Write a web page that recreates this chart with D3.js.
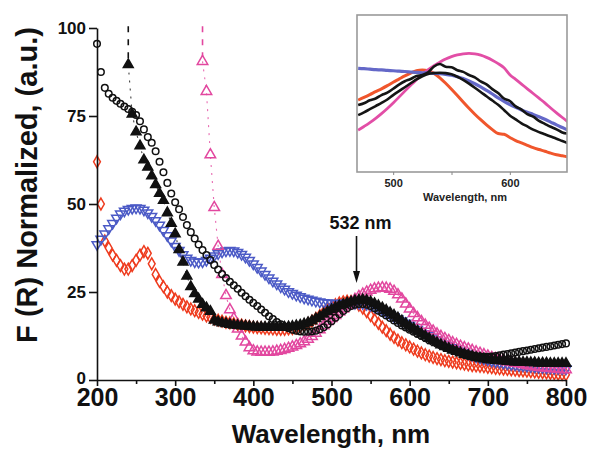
<!DOCTYPE html>
<html><head><meta charset="utf-8">
<script src="https://cdn.jsdelivr.net/npm/d3@7"></script>
<style>body{margin:0;background:#fff}svg{display:block}</style>
</head><body><svg id="c" width="590" height="452"></svg>
<script>
// ---------- main chart data (wavelength step 5 nm) ----------
const wlStart = 200, wlStep = 5;
const redDiamond = [
 62, 50, 39.5, 37.5, 35.5, 34, 32.5, 31.5, 31.5, 32.5,
 34, 35.5, 36.5, 36, 33, 30, 28, 26.5, 25, 24,
 23, 22.2, 21.5, 20.8, 20.2, 19.7, 19.2, 18.7, 18.2, 17.8,
 17.3, 17, 16.7, 16.4, 16.2, 16, 15.8, 15.6, 15.4, 15.2,
 15, 14.9, 14.8, 14.7, 14.6, 14.5, 14.4, 14.4, 14.4, 14.5,
 14.6, 14.8, 15.1, 15.5, 16, 16.7, 17.5, 18.3, 19.2, 20,
 20.8, 21.4, 21.9, 22.2, 22.4, 22.3, 22, 21.3, 20.4, 19.4,
 18.3, 17.2, 16.1, 15, 14, 13, 12.1, 11.3, 10.6, 10,
 9.4, 8.8, 8.2, 7.7, 7.2, 6.8, 6.4, 6.1, 5.8, 5.5,
 5.3, 5.1, 4.9, 4.7, 4.5, 4.3, 4.1, 4, 3.9, 3.8,
 3.6, 3.5, 3.3, 3.2, 3.1, 3, 2.9, 2.8, 2.7, 2.6,
 2.5, 2.4, 2.3, 2.2, 2.1, 2, 1.9, 1.8, 1.7, 1.6,
 1.5];
const blueTriDown = [
 38.5, 40, 41.5, 43, 44.5, 46, 47.2, 48, 48.5, 48.8,
 48.9, 48.8, 48.3, 47.5, 46.5, 45.3, 44, 42.5, 41, 39.5,
 38, 36.8, 35.6, 34.6, 34, 33.6, 33.5, 33.6, 34, 34.6,
 35.3, 35.9, 36.4, 36.7, 36.8, 36.7, 36.3, 35.7, 34.9, 34,
 33, 32, 31, 30, 29, 28.1, 27.3, 26.5, 25.8, 25.1,
 24.6, 24.1, 23.7, 23.3, 23, 22.7, 22.4, 22.2, 22, 21.9,
 21.8, 21.8, 21.8, 21.8, 21.8, 21.8, 21.8, 21.8, 21.7, 21.5,
 21.2, 20.8, 20.3, 19.8, 19.2, 18.6, 18, 17.4, 16.8, 16.2,
 15.6, 15, 14.4, 13.8, 13.2, 12.6, 12, 11.4, 10.8, 10.2,
 9.7, 9.2, 8.7, 8.2, 7.8, 7.4, 7, 6.6, 6.3, 6,
 5.7, 5.4, 5.2, 5, 4.8, 4.6, 4.4, 4.3, 4.1, 4,
 3.9, 3.8, 3.7, 3.6, 3.5, 3.4, 3.4, 3.3, 3.3, 3.2,
 3.2];
const blackCircle = [
 95.5, 87.5, 83, 81.3, 80.2, 79.3, 78.5, 77.7, 77, 76.2,
 75.3, 73.5, 71.2, 69, 67.4, 65, 62, 59, 56, 53,
 50.5, 48.5, 46.3, 44, 42, 40.2, 38.5, 36.9, 35.5, 34.1,
 32.7, 31.4, 30.1, 29, 27.9, 26.9, 25.9, 24.8, 23.8, 22.8,
 21.9, 21, 20, 19.1, 18.1, 17.3, 16.5, 15.8, 15.2, 14.7,
 14.3, 14, 13.8, 13.7, 13.7, 13.8, 14, 14.4, 15, 15.8,
 16.7, 17.7, 18.7, 19.6, 20.4, 21, 21.4, 21.6, 21.6, 21.4,
 21, 20.4, 19.7, 19, 18.3, 17.6, 16.9, 16.2, 15.5, 14.9,
 14.3, 13.7, 13.1, 12.5, 11.9, 11.3, 10.8, 10.3, 9.8, 9.3,
 8.9, 8.5, 8.1, 7.8, 7.5, 7.2, 7, 6.8, 6.7, 6.6,
 6.6, 6.7, 6.8, 7, 7.2, 7.4, 7.6, 7.8, 8, 8.2,
 8.4, 8.6, 8.8, 9, 9.2, 9.4, 9.6, 9.8, 10, 10.2,
 10.4];
const blackTriStart = 240;
const blackTriUp = [
 89.6, 75.5, 70.5, 66.5, 62.5, 60.5, 58, 55.5, 53, 51,
 47.5, 44.5, 41.5, 37, 33.5, 29.5, 26.5, 24.5, 23, 21.5,
 20.5, 19.5, 17, 16.5, 16.2, 16, 15.8, 15.6, 15.5, 15.4,
 15.3, 15.2, 15.1, 15, 15, 15, 15, 15, 15, 15,
 15, 15.1, 15.2, 15.4, 15.6, 15.9, 16.3, 16.8, 17.4, 18,
 18.7, 19.4, 20, 20.6, 21.1, 21.5, 21.9, 22.2, 22.5, 22.7,
 22.8, 22.6, 22.2, 21.7, 21.1, 20.5, 19.8, 19.1, 18.4, 17.6,
 16.8, 16, 15.3, 14.6, 13.9, 13.2, 12.5, 11.8, 11.2, 10.6,
 10, 9.5, 9, 8.5, 8.1, 7.7, 7.3, 7, 6.7, 6.4,
 6.2, 6, 5.8, 5.7, 5.6, 5.5, 5.4, 5.3, 5.2, 5.1,
 5.1, 5, 5, 4.9, 4.9, 4.8, 4.8, 4.8, 4.7, 4.7,
 4.7, 4.7, 4.7];
const pinkTriStart = 335;
const pinkTriUp = [
 90.5, 82, 64, 49, 38, 30, 24, 20, 17.5, 14.5,
 12.5, 10.8, 9.2, 8.3, 8, 7.9, 7.9, 7.9, 8, 8.2,
 8.4, 8.7, 9, 9.4, 9.8, 10.3, 10.9, 11.6, 12.4, 13.3,
 14.3, 15.4, 16.6, 17.5, 18.3, 19.3, 20.2, 21.1, 22, 22.9,
 23.7, 24.4, 25, 25.5, 25.9, 26.1, 26.2, 26.1, 25.8, 25.2,
 24.2, 23, 21.6, 20.2, 18.9, 17.7, 16.6, 15.6, 14.7, 13.9,
 13.1, 12.4, 11.8, 11.2, 10.6, 10.1, 9.6, 9.2, 8.8, 8.4,
 8, 7.6, 7.2, 6.8, 6.4, 6.1, 5.8, 5.5, 5.2, 5,
 4.8, 4.6, 4.4, 4.2, 4, 3.8, 3.6, 3.5, 3.4, 3.3,
 3.2, 3.1, 3, 2.9];
const xTicks = [200, 300, 400, 500, 600, 700, 800];
const xMinorTicks = [250, 350, 450, 550, 650, 750];
const yTicks = [0, 25, 50, 75, 100];
const peakLabel = "532 nm";
const peakWl = 532;

// ---------- inset data (470..650 nm, step 5, relative units) ----------
const insetStart = 470;
const insetRed = [
 .458, .475, .493, .512, .53, .55, .572, .592, .612, .63,
 .645, .65, .645, .628, .6, .565, .527, .487, .446, .406,
 .368, .333, .3, .27, .245, .24, .22, .2, .185, .17,
 .155, .143, .132, .12, .11, .103, .096];
const insetPink = [
 .266, .29, .315, .342, .372, .405, .44, .477, .515, .552,
 .588, .622, .652, .678, .7, .72, .735, .746, .753, .755,
 .752, .744, .73, .712, .69, .664, .62, .59, .56, .53,
 .5, .47, .44, .408, .377, .347, .318];
const insetBlue = [
 .66, .658, .655, .652, .65, .647, .645, .642, .64, .637,
 .634, .632, .63, .628, .626, .622, .616, .607, .595, .58,
 .562, .542, .52, .497, .472, .45, .43, .412, .395, .38,
 .367, .352, .336, .318, .3, .283, .266];
const insetBlack1 = [
 .426, .438, .457, .468, .49, .505, .53, .556, .578, .592,
 .612, .618, .635, .672, .688, .67, .667, .648, .638, .618,
 .603, .577, .558, .528, .503, .468, .452, .418, .397, .368,
 .352, .326, .307, .288, .272, .252, .244];
const insetBlack2 = [
 .362, .38, .4, .42, .44, .462, .49, .515, .54, .565,
 .59, .61, .625, .63, .632, .63, .622, .607, .587, .563,
 .537, .51, .482, .455, .428, .395, .36, .335, .31, .29,
 .27, .254, .24, .226, .212, .197, .183];
const insetTicks = [500, 550, 600];
const insetLabelTicks = [500, 600];

// ---------- drawing ----------
const svg = d3.select("#c");
svg.append("rect").attr("width", 590).attr("height", 452).attr("fill", "#fff");
const FONT = "'Liberation Sans', Arial, Helvetica, sans-serif";

const x = d3.scaleLinear().domain([200, 800]).range([97, 566]);
const y = d3.scaleLinear().domain([0, 100]).range([380, 28]);

function toPts(start, vals) { return vals.map((v, i) => ({wl: start + i * wlStep, v})); }

const series = [
  {pts: toPts(wlStart, redDiamond), sym: d3.symbolDiamond, size: 40, rot: 0, fill: "none", stroke: "#ee3b1e", lead: false},
  {pts: toPts(wlStart, blueTriDown), sym: d3.symbolTriangle, size: 42, rot: 180, fill: "none", stroke: "#4b5ac6", lead: false},
  {pts: toPts(pinkTriStart, pinkTriUp), sym: d3.symbolTriangle, size: 48, rot: 0, fill: "none", stroke: "#e2479f", lead: true},
  {pts: toPts(wlStart, blackCircle), sym: d3.symbolCircle, size: 34, rot: 0, fill: "none", stroke: "#111", lead: false},
  {pts: toPts(blackTriStart, blackTriUp), sym: d3.symbolTriangle, size: 42, rot: 0, fill: "#111", stroke: "#111", lead: true}
];

const plot = svg.append("g");
series.forEach(s => {
  if (s.lead) {
    // faint connecting trace, visible only where points are far apart
    plot.append("path")
      .attr("d", d3.line().x(d => x(d.wl)).y(d => y(d.v))(s.pts))
      .attr("fill", "none").attr("stroke", s.stroke).attr("stroke-width", 1.1)
      .attr("stroke-dasharray", "2,6").attr("opacity", 0.8);
    const p0 = s.pts[0];
    plot.append("line")
      .attr("x1", x(p0.wl)).attr("x2", x(p0.wl))
      .attr("y1", y(100.5)).attr("y2", y(p0.v) - 5)
      .attr("stroke", s.stroke).attr("stroke-width", 1.6)
      .attr("stroke-dasharray", "6,7");
  }
  const sym = d3.symbol().type(s.sym).size(s.size);
  plot.append("g").selectAll("path").data(s.pts).join("path")
    .attr("d", sym)
    .attr("transform", d => `translate(${x(d.wl)},${y(d.v)}) rotate(${s.rot})`)
    .attr("fill", s.fill).attr("stroke", s.stroke).attr("stroke-width", 1.5);
});

// axes
const xAxis = svg.append("g").attr("transform", "translate(0,380)")
  .call(d3.axisBottom(x).tickValues(xTicks).tickSize(6).tickSizeOuter(0).tickPadding(2).tickFormat(d3.format("d")));
xAxis.selectAll("text").attr("font-family", FONT).attr("font-weight", "bold").attr("font-size", 25).attr("fill", "#111");
const xMinor = svg.append("g").attr("transform", "translate(0,380)")
  .call(d3.axisBottom(x).tickValues(xMinorTicks).tickSize(4).tickFormat(""));
xMinor.select(".domain").remove();

const yAxis = svg.append("g").attr("transform", "translate(97,0)")
  .call(d3.axisLeft(y).tickValues(yTicks).tickSize(8).tickSizeOuter(0).tickPadding(3));
yAxis.selectAll("text").attr("font-family", FONT).attr("font-weight", "bold").attr("font-size", 17).attr("fill", "#111");
yAxis.selectAll(".tick").filter(d => d === 0).select("text").attr("dy", "0.2em");

svg.selectAll(".domain, .tick line").attr("stroke", "#111").attr("stroke-width", 1.6);

svg.append("text").attr("x", 331).attr("y", 443).attr("text-anchor", "middle")
  .attr("font-family", FONT).attr("font-weight", "bold").attr("font-size", 26).attr("fill", "#111")
  .text("Wavelength, nm");
svg.append("text").attr("transform", "translate(37,185) rotate(-90)").attr("text-anchor", "middle")
  .attr("font-family", FONT).attr("font-weight", "bold").attr("font-size", 29).attr("fill", "#111")
  .text("F (R) Normalized, (a.u.)");

// annotation arrow
const ax = x(peakWl);
svg.append("text").attr("x", ax + 4).attr("y", 229).attr("text-anchor", "middle")
  .attr("font-family", FONT).attr("font-weight", "bold").attr("font-size", 18).attr("fill", "#111")
  .text(peakLabel);
svg.append("line").attr("x1", ax).attr("x2", ax).attr("y1", 236).attr("y2", 273)
  .attr("stroke", "#111").attr("stroke-width", 1.6);
svg.append("path").attr("d", `M${ax - 3.5},271 L${ax + 3.5},271 L${ax},283 Z`).attr("fill", "#111");

// ---------- inset ----------
const ix = d3.scaleLinear().domain([469, 649]).range([357, 567]);
const iy = d3.scaleLinear().domain([0, 1]).range([172, 15]);
const defs = svg.append("defs");
defs.append("clipPath").attr("id", "insclip").append("rect")
  .attr("x", 357).attr("y", 15).attr("width", 210).attr("height", 157);
svg.append("rect").attr("x", 357).attr("y", 15).attr("width", 210).attr("height", 157).attr("fill", "#fff");
const ig = svg.append("g").attr("clip-path", "url(#insclip)");
const iline = d3.line().x((d, i) => ix(insetStart + i * wlStep)).y(d => iy(d)).curve(d3.curveMonotoneX);
[
  {v: insetRed, c: "#f0562c", w: 3},
  {v: insetPink, c: "#e24ea6", w: 2.8},
  {v: insetBlue, c: "#6468c8", w: 3.2},
  {v: insetBlack2, c: "#151515", w: 2.6},
  {v: insetBlack1, c: "#151515", w: 2.6}
].forEach(s => {
  ig.append("path").attr("d", iline(s.v)).attr("fill", "none").attr("stroke", s.c).attr("stroke-width", s.w);
});
svg.append("rect").attr("x", 357).attr("y", 15).attr("width", 210).attr("height", 157)
  .attr("fill", "none").attr("stroke", "#9a9a9a").attr("stroke-width", 1.6);
const iAxis = svg.append("g").attr("transform", "translate(0,172)")
  .call(d3.axisBottom(ix).tickValues(insetTicks).tickSize(3).tickPadding(4)
    .tickFormat(d => insetLabelTicks.includes(d) ? d : ""));
iAxis.select(".domain").remove();
iAxis.selectAll(".tick line").attr("stroke", "#888").attr("stroke-width", 1);
iAxis.selectAll("text").attr("font-family", FONT).attr("font-weight", "bold").attr("font-size", 11).attr("fill", "#222");
svg.append("text").attr("x", 465).attr("y", 201).attr("text-anchor", "middle")
  .attr("font-family", FONT).attr("font-weight", "bold").attr("font-size", 11).attr("fill", "#222")
  .text("Wavelength, nm");
</script></body></html>
